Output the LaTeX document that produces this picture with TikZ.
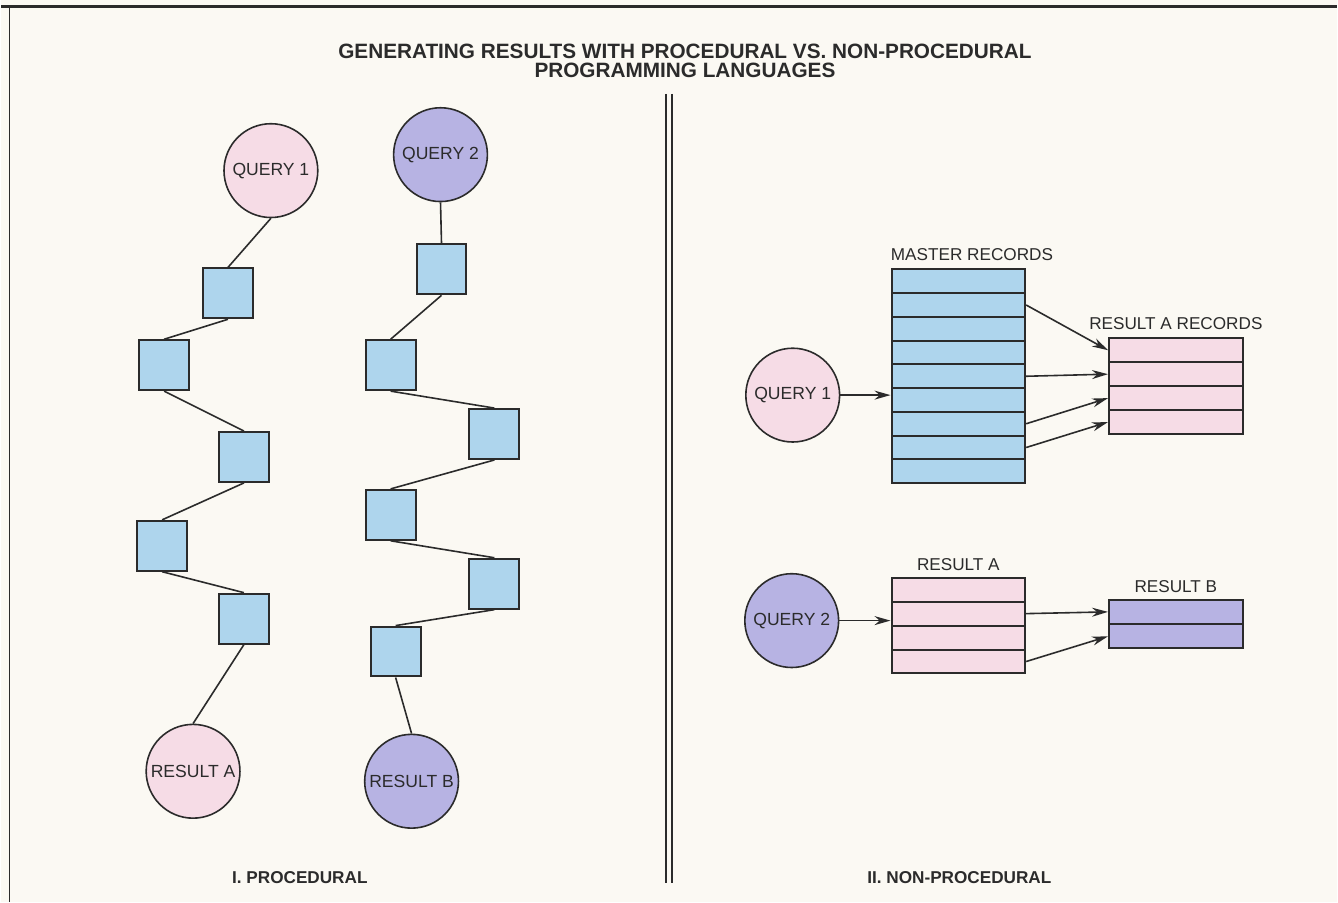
\documentclass[tikz,border=0pt]{standalone}
\usepackage{fontspec}
\setmainfont{Liberation Sans}
\usetikzlibrary{arrows.meta,positioning,calc}

\definecolor{paper}{HTML}{FBF9F3}
\definecolor{qpink}{HTML}{F6DCE6}
\definecolor{qlav}{HTML}{B7B3E3}
\definecolor{sqblue}{HTML}{AED5ED}
\definecolor{ink}{HTML}{2B2B2B}

\begin{document}
\begin{tikzpicture}[
    x=0.5pt, y=-0.5pt,
    circ/.style={circle, draw=ink, line width=0.8pt, minimum size=47pt, inner sep=0pt, text=ink, font=\fontsize{8.8}{10}\selectfont},
    q1c/.style={circ, fill=qpink},
    q2c/.style={circ, fill=qlav},
    sq/.style={rectangle, draw=ink, line width=1pt, fill=sqblue, minimum size=25pt, inner sep=0pt},
    rowbox/.style={rectangle, draw=ink, line width=1pt, minimum width=67pt, minimum height=12pt, inner sep=0pt},
    mrow/.style={rowbox, fill=sqblue, minimum height=11.9pt},
    arow/.style={rowbox, fill=qpink},
    brow/.style={rowbox, fill=qlav},
    link/.style={draw=ink, line width=0.8pt},
    arrow/.style={link, -{Stealth[length=8pt,width=4.5pt]}},
    lbl/.style={font=\fontsize{8.6}{10}\selectfont, text=ink, inner sep=0pt},
    head/.style={font=\bfseries\fontsize{8.6}{10}\selectfont, text=ink, inner sep=0pt},
    title/.style={font=\bfseries\fontsize{10.4}{9.4}\selectfont, text=ink, align=center, inner sep=0pt}
]
% Paper and frame
\fill[paper] (0,0) rectangle (1338,904);
\draw[ink, line width=1.5pt] (0,7) -- (1338,7);
\draw[ink, line width=0.9pt] (8,7) -- (8,904);

% Title
\node[title] (title) at (685,61) {GENERATING RESULTS WITH PROCEDURAL VS. NON-PROCEDURAL\\PROGRAMMING LANGUAGES};

% Divider
\draw[ink, line width=0.8pt] (666,94) -- (666,885);
\draw[ink, line width=0.8pt] (672,94) -- (672,885);

% Procedural: query 1 chain
\node[q1c] (q1) at (270,171) {QUERY 1};
\node[sq] (s1) at (227,294) {};
\node[sq] (s2) at (163,366) {};
\node[sq] (s3) at (243,458) {};
\node[sq] (s4) at (161,547) {};
\node[sq] (s5) at (243,620) {};
\node[q1c] (resa) at (192,773) {RESULT A};

% Procedural: query 2 chain
\node[q2c] (q2) at (440,155) {QUERY 2};
\node[sq] (t1) at (441,270) {};
\node[sq] (t2) at (390,366) {};
\node[sq] (t3) at (494,435) {};
\node[sq] (t4) at (390,516) {};
\node[sq] (t5) at (494,585) {};
\node[sq] (t6) at (395,653) {};
\node[q2c] (resb) at (411,783) {RESULT B};

\foreach \a/\b in {q1/s1, s1/s2, s2/s3, s3/s4, s4/s5, s5/resa, q2/t1, t1/t2, t2/t3, t3/t4, t4/t5, t5/t6, t6/resb}
    \draw[link] (\a.south) -- (\b.north);

\node[head] at (299,880) {I. PROCEDURAL};

% Non-procedural: query 1
\node[q1c] (rq1) at (793,396) {QUERY 1};
\foreach \i in {1,...,9}
    \node[mrow] (m\i) at (959,{270+23.8*(\i-0.5)}) {};
\foreach \i in {1,...,4}
    \node[arow] (rec\i) at (1177,{339+24*(\i-0.5)}) {};
\node[lbl, above right=3.5pt and 0pt of m1.north west] {MASTER RECORDS};
\node[lbl, above=3.5pt of rec1] {RESULT A RECORDS};

\draw[arrow] (rq1.east) -- (rq1.east -| m1.west);
\draw[arrow] (m2.east) -- (rec1.west);
\draw[arrow] (m5.east) -- (rec2.west);
\draw[arrow] (m7.east) -- (rec3.west);
\draw[arrow] (m8.east) -- (rec4.west);

% Non-procedural: query 2
\node[q2c] (rq2) at (792,622) {QUERY 2};
\foreach \i in {1,...,4}
    \node[arow] (pa\i) at (959,{579+24*(\i-0.5)}) {};
\foreach \i in {1,2}
    \node[brow] (pb\i) at (1177,{601+24.5*(\i-0.5)}) {};
\node[lbl, above=3pt of pa1] {RESULT A};
\node[lbl, above=3pt of pb1] {RESULT B};

\draw[arrow] (rq2.east) -- (rq2.east -| pa1.west);
\draw[arrow] (pa2.east) -- (pb1.west);
\draw[arrow] (pa4.east) -- (pb2.west);

\node[head] at (960,880) {II. NON-PROCEDURAL};

\end{tikzpicture}
\end{document}
